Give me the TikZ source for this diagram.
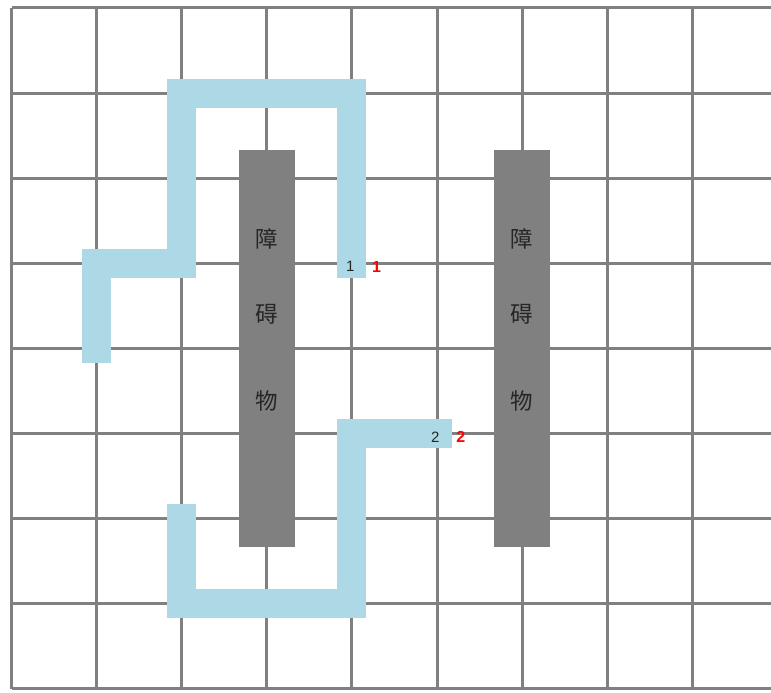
\documentclass[tikz,border=0pt]{standalone}
\usepackage{fontspec}
\setmainfont{Liberation Sans}
\newfontfamily\cjk{Noto Sans CJK SC}
\definecolor{gridgray}{HTML}{808080}
\definecolor{obstgray}{HTML}{808080}
\definecolor{routeblue}{HTML}{ADD8E6}
\tikzset{
  gridline/.style={draw=gridgray, line width=3pt},
  route/.style={draw=routeblue, line width=29pt, line cap=rect, line join=miter},
  obstacle/.style={fill=obstgray, draw=none, minimum width=56pt, minimum height=397pt, inner sep=0pt},
  obstchar/.style={font=\cjk\fontsize{22.5}{22.5}\selectfont, text=black!85, inner sep=0pt},
  endlabel/.style={font=\fontsize{15}{15}\selectfont, text=black!85, inner sep=0pt},
  redlabel/.style={font=\bfseries\fontsize{16}{16}\selectfont, text=red, inner sep=0pt}
}
\begin{document}
\begin{tikzpicture}
\useasboundingbox (0pt,0pt) rectangle (771pt,-693pt);
\clip (0pt,0pt) rectangle (771pt,-693pt);
\fill[white] (0pt,0pt) rectangle (771pt,-693pt);
\begin{scope}[shift={(11.5pt,-8pt)}, x=85.1pt, y=-85.1pt]
  % grid
  \foreach \i in {0,...,9} \draw[gridline] (\i,0) -- (\i,8);
  \foreach \j in {0,...,8} \draw[gridline] (0,\j) -- (9.2,\j);
  % route points
  \coordinate (a1) at (1,4);
  \coordinate (a2) at (1,3);
  \coordinate (a3) at (2,3);
  \coordinate (a4) at (2,1);
  \coordinate (a5) at (4,1);
  \coordinate (a6) at (4,3);
  \coordinate (b1) at (2,6);
  \coordinate (b2) at (2,7);
  \coordinate (b3) at (4,7);
  \coordinate (b4) at (4,5);
  \coordinate (b5) at (5,5);
  \draw[route] (a1) -- (a2) -- (a3) -- (a4) -- (a5) -- (a6);
  \draw[route] (b1) -- (b2) -- (b3) -- (b4) -- (b5);
  % obstacles
  \node[obstacle] (o1) at (3,4) {};
  \node[obstacle] (o2) at (6,4) {};
  \foreach \o in {o1,o2} {
    \node[obstchar] at ([yshift=110pt]\o.center) {障};
    \node[obstchar] at ([yshift=34pt]\o.center) {碍};
    \node[obstchar] at ([yshift=-53pt]\o.center) {物};
  }
  % labels
  \node[endlabel] (l1) at (3.98,3.03) {1};
  \node[redlabel] (r1) at (4.29,3.04) {1};
  \node[endlabel] (l2) at (4.98,5.04) {2};
  \node[redlabel] (r2) at (5.28,5.04) {2};
\end{scope}
\end{tikzpicture}
\end{document}
